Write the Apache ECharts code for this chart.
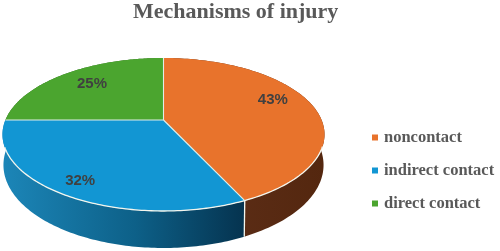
<!DOCTYPE html>
<html><head><meta charset="utf-8">
<style>html,body{margin:0;padding:0;background:#fff}#c{width:500px;height:251px}</style>
<script src="https://cdn.jsdelivr.net/npm/echarts@6/dist/echarts.min.js"></script>
</head><body><div id="c"></div>
<script>
const categories = ['noncontact', 'indirect contact', 'direct contact'];
const values = [43, 32, 25];
const colors = ['#e8732c', '#1296d3', '#4ba52f'];
const titleText = 'Mechanisms of injury';

// Style / projection constants
const GEO = {cx:163.5, cy:120, c:158.1, a:73.75, k:0.1895, topMidY:134.5, baseMidY:165, baseScaleX:0.994, baseScaleY:1.085, rimStartY:146};
const LABEL_PLACE = [{r:.73,dy:-8.5},{r:.85,dy:0},{r:.70,dy:-2.6}];
const total = values.reduce((s,v)=>s+v,0);
function topPt(theta,r){
  const u=r*Math.sin(theta), v=r*Math.cos(theta), d=1+GEO.k*v;
  return [GEO.cx+GEO.c*u/d, GEO.cy-GEO.a*v/d];
}
function bottomPt(theta){
  const p=topPt(theta,1);
  return [GEO.cx+(p[0]-GEO.cx)*GEO.baseScaleX, GEO.baseMidY+(p[1]-GEO.topMidY)*GEO.baseScaleY];
}
function arc(fn,t0,t1,n){
  const out=[];
  for(let i=0;i<=n;i++) out.push(fn(t0+(t1-t0)*i/n,1));
  return out;
}
const wallFills = [
  {type:'linear',x:0,y:0,x2:1,y2:0,global:false,colorStops:[{offset:0,color:'#60301a'},{offset:1,color:'#54270f'}]},
  {type:'linear',x:0,y:0,x2:1,y2:0,global:false,colorStops:[{offset:0,color:'#1c86b8'},{offset:.55,color:'#0d6088'},{offset:1,color:'#05334f'}]},
  '#2f6a1d'
];
function sliceSpan(i){
  let s=0; for(let j=0;j<i;j++) s+=values[j];
  return [s/total*2*Math.PI,(s+values[i])/total*2*Math.PI];
}
function render(i){
  return function(params,api){
    const [t0,t1]=sliceSpan(i);
    const rim=arc(topPt,t0,t1,120);
    const under=arc(bottomPt,t0,t1,120).reverse();
    const front=rim.filter(p=>p[1]>GEO.rimStartY);
    const apex=[GEO.cx,GEO.cy];
    const mid=(t0+t1)/2, pl=LABEL_PLACE[i], lp=topPt(mid,pl.r);
    const kids=[
      {type:'polygon',z2:1,shape:{points:rim.concat(under)},style:{fill:wallFills[i]}},
      {type:'polygon',z2:10,shape:{points:[apex].concat(rim)},style:{fill:colors[i]}},
      {type:'polyline',z2:12,shape:{points:[apex,rim[0]]},style:{stroke:'#dfeee8',lineWidth:1.1,fill:null}},
      {type:'text',z2:20,x:lp[0],y:lp[1]+pl.dy,style:{text:Math.round(values[i]/total*100)+'%',
        fill:'#404040',font:'bold 15px "Liberation Sans"',align:'center',verticalAlign:'middle'}}
    ];
    if(front.length>1) kids.push({type:'polyline',z2:13,shape:{points:front},style:{stroke:'#f4f6ee',lineWidth:1.3,fill:null}});
    if(i===0) kids.push({type:'polyline',z2:13,shape:{points:[rim[rim.length-1],under[0]]},style:{stroke:'#f4f6ee',lineWidth:1.3,fill:null}});
    return {type:'group',children:kids};
  };
}
const chart=echarts.init(document.getElementById('c'),null,{renderer:'canvas'});
chart.setOption({
  animation:false,
  backgroundColor:'#fff',
  title:{text:titleText,left:128,top:-4,textStyle:{fontFamily:'Liberation Serif',fontWeight:'bold',fontSize:22,color:'#595959'}},
  legend:{orient:'vertical',left:367,top:124,itemWidth:6,itemHeight:6,itemGap:16,icon:'rect',
    data:categories,textStyle:{fontFamily:'Liberation Serif',fontWeight:'bold',fontSize:16.5,color:'#595959',padding:[0,0,0,1]}},
  series:categories.map((name,i)=>({
    type:'custom',name,coordinateSystem:'none',data:[values[i]],
    itemStyle:{color:colors[i]},renderItem:render(i),silent:true
  }))
});
</script></body></html>
